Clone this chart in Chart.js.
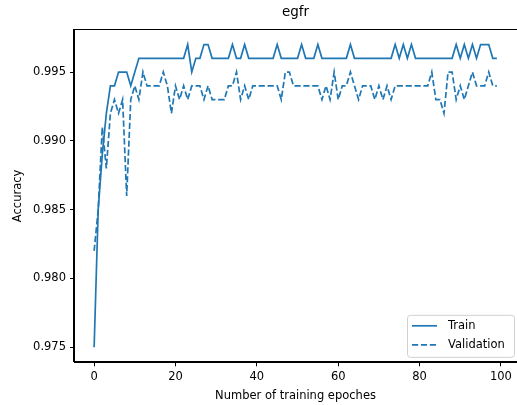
<!DOCTYPE html>
<html>
<head>
<meta charset="utf-8">
<script src="https://cdn.jsdelivr.net/npm/chart.js@4.4.1/dist/chart.umd.min.js"></script>
<style>
  html, body { margin: 0; padding: 0; background: #fff; }
  #wrap { width: 517px; height: 405px; }
</style>
</head>
<body>
<div id="wrap"><canvas id="grafica"></canvas></div>
<script>
// epochs on the x axis
const epochs = [
  0, 1, 2, 3, 4, 5, 6, 7, 8, 9, 10, 11, 12, 13, 14, 15, 16, 17, 18, 19,
  20, 21, 22, 23, 24, 25, 26, 27, 28, 29, 30, 31, 32, 33, 34, 35, 36, 37, 38, 39,
  40, 41, 42, 43, 44, 45, 46, 47, 48, 49, 50, 51, 52, 53, 54, 55, 56, 57, 58, 59,
  60, 61, 62, 63, 64, 65, 66, 67, 68, 69, 70, 71, 72, 73, 74, 75, 76, 77, 78, 79,
  80, 81, 82, 83, 84, 85, 86, 87, 88, 89, 90, 91, 92, 93, 94, 95, 96, 97, 98, 99
];

const trainAcc = [
  0.975, 0.985, 0.989, 0.992, 0.994, 0.994, 0.995, 0.995, 0.995, 0.994,
  0.995, 0.996, 0.996, 0.996, 0.996, 0.996, 0.996, 0.996, 0.996, 0.996,
  0.996, 0.996, 0.996, 0.997, 0.995, 0.996, 0.996, 0.997, 0.997, 0.996,
  0.996, 0.996, 0.996, 0.996, 0.997, 0.996, 0.996, 0.997, 0.996, 0.996,
  0.996, 0.996, 0.996, 0.996, 0.996, 0.997, 0.996, 0.996, 0.996, 0.996,
  0.996, 0.997, 0.996, 0.996, 0.996, 0.997, 0.996, 0.996, 0.996, 0.996,
  0.996, 0.996, 0.996, 0.997, 0.996, 0.996, 0.996, 0.996, 0.996, 0.996,
  0.996, 0.996, 0.996, 0.996, 0.997, 0.996, 0.997, 0.996, 0.997, 0.996,
  0.996, 0.996, 0.996, 0.996, 0.996, 0.996, 0.996, 0.996, 0.996, 0.997,
  0.996, 0.997, 0.996, 0.997, 0.996, 0.997, 0.997, 0.997, 0.996, 0.996
];

const valAcc = [
  0.982, 0.985, 0.991, 0.988, 0.992, 0.993, 0.992, 0.993, 0.986, 0.993,
  0.994, 0.993, 0.995, 0.994, 0.994, 0.994, 0.994, 0.995, 0.994, 0.992,
  0.994, 0.993, 0.994, 0.993, 0.994, 0.994, 0.994, 0.993, 0.994, 0.993,
  0.993, 0.993, 0.993, 0.994, 0.994, 0.995, 0.993, 0.994, 0.993, 0.994,
  0.994, 0.994, 0.994, 0.994, 0.994, 0.994, 0.993, 0.995, 0.995, 0.994,
  0.994, 0.994, 0.994, 0.994, 0.994, 0.994, 0.993, 0.994, 0.993, 0.995,
  0.993, 0.994, 0.994, 0.995, 0.994, 0.993, 0.994, 0.994, 0.994, 0.993,
  0.994, 0.993, 0.994, 0.993, 0.994, 0.994, 0.994, 0.994, 0.994, 0.994,
  0.994, 0.994, 0.994, 0.995, 0.993, 0.993, 0.992, 0.995, 0.995, 0.993,
  0.994, 0.993, 0.994, 0.995, 0.994, 0.994, 0.994, 0.995, 0.994, 0.994
];

const xTicks = [0, 20, 40, 60, 80, 100];
const yTicks = [0.975, 0.980, 0.985, 0.990, 0.995];
const seriesNames = ['Train', 'Validation'];
const chartTitle = 'egfr';

const azul = '#1f77b4';
const fuente = 'DejaVu Sans';

Chart.defaults.color = '#000';
Chart.defaults.font.family = fuente;

// title centred on the axes, plus top and right spines like matplotlib
const marco = {
  id: 'marco',
  afterDatasetsDraw(chart) {
    const { ctx, chartArea: a } = chart;
    ctx.save();
    ctx.strokeStyle = '#000';
    ctx.lineWidth = 1;
    ctx.strokeRect(Math.round(a.left) - 0.5, Math.round(a.top) + 0.5,
      Math.round(a.right - a.left) + 1, Math.round(a.bottom - a.top) - 1);
    ctx.fillStyle = '#000';
    ctx.font = '13.5px "' + fuente + '"';
    ctx.textAlign = 'center';
    ctx.textBaseline = 'middle';
    ctx.fillText(chartTitle, (a.left + a.right) / 2, 12.5);
    ctx.restore();
  }
};

// legend box in the lower right corner of the axes
const leyenda = {
  id: 'leyenda',
  afterDraw(chart) {
    const { ctx, chartArea: a } = chart;
    const w = 107, h = 42;
    const x0 = 407, y0 = a.bottom - 5.6 - h;
    ctx.save();
    ctx.beginPath();
    ctx.roundRect(x0 + 0.5, y0 + 0.5, w, h, 3);
    ctx.fillStyle = 'rgba(255,255,255,0.8)';
    ctx.fill();
    ctx.strokeStyle = '#d0d0d0';
    ctx.lineWidth = 1;
    ctx.stroke();

    const filas = [y0 + 11, y0 + 30];
    ctx.font = '11.5px "' + fuente + '"';
    ctx.textBaseline = 'middle';
    ctx.textAlign = 'left';
    seriesNames.forEach((nombre, i) => {
      const ds = chart.data.datasets[i];
      ctx.beginPath();
      ctx.setLineDash(ds.borderDash || []);
      ctx.strokeStyle = ds.borderColor;
      ctx.lineWidth = ds.borderWidth;
      ctx.moveTo(x0 + 5, filas[i]);
      ctx.lineTo(x0 + 30, filas[i]);
      ctx.stroke();
      ctx.setLineDash([]);
      ctx.fillStyle = '#000';
      ctx.fillText(nombre, x0 + 41, filas[i] + 0.5);
    });
    ctx.restore();
  }
};

const ctx = document.getElementById('grafica').getContext('2d');
new Chart(ctx, {
  type: 'line',
  data: {
    datasets: [{
      label: seriesNames[0],
      data: epochs.map((e, i) => ({ x: e, y: trainAcc[i] })),
      borderColor: azul,
      borderWidth: 1.7,
      pointRadius: 0,
      tension: 0,
      fill: false
    }, {
      label: seriesNames[1],
      data: epochs.map((e, i) => ({ x: e, y: valAcc[i] })),
      borderColor: azul,
      borderWidth: 1.7,
      borderDash: [6.2, 2.7],
      pointRadius: 0,
      tension: 0,
      fill: false
    }]
  },
  options: {
    responsive: true,
    maintainAspectRatio: false,
    animation: false,
    // the axes run a little past the right edge of the picture
    layout: { padding: { left: 0, right: -4.7, top: 29.4, bottom: 0 } },
    plugins: {
      legend: { display: false },
      tooltip: { enabled: false },
      title: { display: false }
    },
    scales: {
      x: {
        type: 'linear',
        min: -4.95,
        max: 103.95,
        afterBuildTicks: s => { s.ticks = xTicks.map(v => ({ value: v })); },
        afterFit: s => { s.height = 42.6; s.paddingLeft = 0; s.paddingRight = 0; },
        grid: { drawOnChartArea: false, drawTicks: true, tickLength: 4, color: '#000' },
        border: { display: true, color: '#000', width: 1 },
        ticks: { padding: 4, maxRotation: 0, font: { size: 11.5 }, color: '#000' },
        title: {
          display: true,
          text: 'Number of training epoches',
          color: '#000',
          font: { size: 11.5 },
          padding: { top: 0, bottom: 2.5 }
        }
      },
      y: {
        type: 'linear',
        min: 0.9739,
        max: 0.9981,
        afterBuildTicks: s => { s.ticks = yTicks.map(v => ({ value: v })); },
        afterFit: s => { s.width = 74; s.paddingTop = 0; s.paddingBottom = 0; },
        grid: { drawOnChartArea: false, drawTicks: true, tickLength: 4, color: '#000' },
        border: { display: true, color: '#000', width: 1 },
        ticks: {
          padding: 4,
          font: { size: 11.5 },
          color: '#000',
          callback: v => v.toFixed(3)
        },
        title: {
          display: true,
          text: 'Accuracy',
          color: '#000',
          font: { size: 11.5 },
          padding: { top: 11, bottom: 0 }
        }
      }
    }
  },
  plugins: [marco, leyenda]
});
</script>
</body>
</html>
